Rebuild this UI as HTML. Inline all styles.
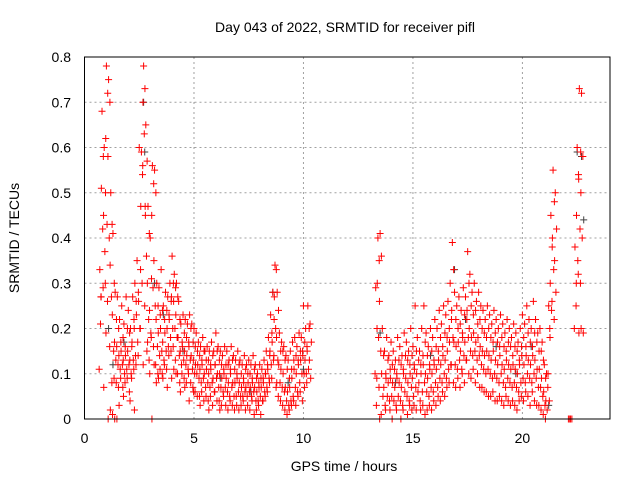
<!DOCTYPE html>
<html><head><meta charset="utf-8"><style>
body{margin:0;background:#fff}
svg text{font-family:"Liberation Sans",sans-serif;font-size:14px;fill:#000}
</style></head><body>
<svg id="chart" width="640" height="480" viewBox="0 0 640 480">
<rect width="640" height="480" fill="#fff"/>
<text x="345" y="32" text-anchor="middle">Day 043 of 2022, SRMTID for receiver pifl</text>
<g id="grid"></g>
<g id="gray"></g>
<g id="red"></g>
<rect x="84.5" y="57" width="525.5" height="362" fill="none" stroke="#000" stroke-width="1"/>
<g id="ticks"></g>
<text x="344" y="471" text-anchor="middle">GPS time / hours</text>
<text transform="translate(19,238) rotate(-90)" text-anchor="middle">SRMTID / TECUs</text>
</svg>
<script>
const xTicks=[0,5,10,15,20];
const yTicks=[0,0.1,0.2,0.3,0.4,0.5,0.6,0.7,0.8];
const yTickLabels=["0","0.1","0.2","0.3","0.4","0.5","0.6","0.7","0.8"];
// time bins (hours) and the SRMTID values observed in each bin
const binTimes=[0.7,0.8,0.9,1.0,1.1,1.2,1.3,1.4,1.5,1.6,1.7,1.8,1.9,2.0,2.1,2.2,2.3,2.4,2.5,2.6,2.7,2.8,2.9,3.0,3.1,3.2,3.3,3.4,3.5,3.6,3.7,3.8,3.9,4.0,4.1,4.2,4.3,4.4,4.5,4.6,4.7,4.8,4.9,5.0,5.1,5.2,5.3,5.4,5.5,5.6,5.7,5.8,5.9,6.0,6.1,6.2,6.3,6.4,6.5,6.6,6.7,6.8,6.9,7.0,7.1,7.2,7.3,7.4,7.5,7.6,7.7,7.8,7.9,8.0,8.1,8.2,8.3,8.4,8.5,8.6,8.7,8.8,8.9,9.0,9.1,9.2,9.3,9.4,9.5,9.6,9.7,9.8,9.9,10.0,10.1,10.2,10.3,
13.3,13.4,13.5,13.6,13.7,13.8,13.9,14.0,14.1,14.2,14.3,14.4,14.5,14.6,14.7,14.8,14.9,15.0,15.1,15.2,15.3,15.4,15.5,15.6,15.7,15.8,15.9,16.0,16.1,16.2,16.3,16.4,16.5,16.6,16.7,16.8,16.9,17.0,17.1,17.2,17.3,17.4,17.5,17.6,17.7,17.8,17.9,18.0,18.1,18.2,18.3,18.4,18.5,18.6,18.7,18.8,18.9,19.0,19.1,19.2,19.3,19.4,19.5,19.6,19.7,19.8,19.9,20.0,20.1,20.2,20.3,20.4,20.5,20.6,20.7,20.8,20.9,21.0,21.1,21.2,21.3,21.4,21.5,22.1,22.2,22.4,22.5,22.6,22.7];
const binValues=[
[0.33,0.27,0.11,0.21],[0.68,0.58,0.51,0.42,0.27,0.07],[0.6,0.5,0.45,0.37,0.29,0.19],[0.78,0.72,0.62,0.43,0.3,0.0],[0.75,0.7,0.58,0.4,0.26,0.02],[0.5,0.43,0.34,0.27,0.16,0.01],[0.41,0.3,0.23,0.15,0.08,0.0],[0.28,0.22,0.17,0.13,0.09,0.0],[0.27,0.2,0.16,0.12,0.08,0.03],
[0.22,0.17,0.14,0.11,0.07],[0.25,0.18,0.15,0.12,0.09,0.05],[0.21,0.16,0.13,0.1,0.07],[0.27,0.2,0.14,0.11,0.08],[0.24,0.19,0.15,0.12,0.09,0.04],[0.2,0.16,0.13,0.1,0.06],[0.27,0.22,0.17,0.13,0.09,0.02],[0.3,0.26,0.2,0.14,0.11],[0.35,0.28,0.23,0.17,0.12],[0.6,0.33,0.26,0.2,0.14],[0.59,0.56,0.47,0.3,0.2,0.12],[0.78,0.73,0.7,0.63,0.54,0.45],[0.65,0.57,0.47,0.36,0.25,0.17],[0.47,0.41,0.3,0.22,0.15,0.1],[0.4,0.31,0.24,0.19,0.13,0.0],[0.56,0.52,0.45,0.29,0.18,0.12],[0.55,0.5,0.35,0.25,0.16,0.08],[0.3,0.25,0.22,0.16,0.12,0.09],[0.29,0.23,0.19,0.14,0.1],[0.33,0.24,0.2,0.15,0.11,0.09],[0.25,0.22,0.17,0.13,0.1],[0.28,0.24,0.19,0.15,0.12,0.07],[0.27,0.23,0.2,0.16,0.11],[0.3,0.26,0.22,0.18,0.14,0.09],[0.36,0.3,0.27,0.2,0.15,0.11],[0.32,0.29,0.26,0.2,0.16,0.1],[0.3,0.27,0.23,0.18,0.13],[0.26,0.22,0.18,0.14,0.1,0.06],[0.21,0.17,0.15,0.12,0.08],[0.23,0.19,0.16,0.13,0.1,0.07],[0.22,0.18,0.15,0.12,0.09],[0.21,0.17,0.14,0.11,0.08,0.04],[0.23,0.2,0.16,0.13,0.1],[0.21,0.17,0.14,0.11,0.08,0.06],[0.2,0.16,0.13,0.1,0.07],
[0.19,0.15,0.12,0.1,0.06],[0.17,0.14,0.12,0.09,0.05,0.03],[0.16,0.13,0.11,0.08,0.05],[0.18,0.15,0.12,0.09,0.06],[0.15,0.13,0.1,0.07,0.04],[0.16,0.13,0.11,0.08,0.05,0.02],[0.15,0.12,0.1,0.07,0.04],[0.17,0.14,0.11,0.08,0.05],[0.15,0.12,0.09,0.06,0.03],[0.19,0.15,0.12,0.09,0.06],[0.16,0.13,0.1,0.07,0.04,0.02],[0.15,0.12,0.1,0.07,0.04],[0.14,0.11,0.09,0.06,0.03],[0.16,0.12,0.1,0.07,0.05],[0.15,0.12,0.09,0.06,0.03],[0.13,0.11,0.08,0.05,0.02],[0.16,0.13,0.1,0.07,0.04],[0.14,0.11,0.08,0.05,0.03],[0.13,0.1,0.08,0.05,0.02],[0.15,0.12,0.09,0.06,0.03],[0.13,0.1,0.08,0.05,0.02],[0.12,0.09,0.07,0.05,0.03],[0.14,0.11,0.08,0.06,0.04],[0.12,0.1,0.07,0.05,0.02],[0.13,0.1,0.08,0.06,0.03],[0.12,0.09,0.07,0.05,0.02],[0.14,0.11,0.08,0.06,0.04],[0.12,0.09,0.07,0.04,0.01],[0.1,0.08,0.06,0.04,0.02],[0.12,0.09,0.07,0.05,0.03],[0.11,0.09,0.07,0.04,0.01],[0.13,0.1,0.08,0.06,0.04],[0.15,0.12,0.1,0.07,0.05],[0.18,0.14,0.11,0.09,0.06],[0.23,0.19,0.15,0.12,0.08],[0.28,0.22,0.17,0.13,0.09],[0.34,0.33,0.27,0.2,0.14,0.08],[0.28,0.24,0.18,0.13,0.07],[0.19,0.15,0.12,0.08,0.05],[0.17,0.15,0.11,0.07,0.04],[0.16,0.13,0.1,0.06,0.03],[0.14,0.11,0.07,0.04,0.02],[0.13,0.09,0.06,0.03,0.01],[0.15,0.11,0.07,0.04,0.02],[0.17,0.13,0.09,0.05,0.03],[0.18,0.14,0.11,0.07,0.04],[0.16,0.13,0.1,0.06,0.03],[0.19,0.15,0.12,0.08,0.05],[0.18,0.15,0.13,0.1,0.06],[0.25,0.17,0.14,0.1,0.04],[0.2,0.16,0.13,0.1,0.07],[0.25,0.2,0.15,0.11,0.08],[0.21,0.17,0.13,0.09],
[0.29,0.2,0.1,0.03],[0.4,0.35,0.3,0.18,0.09,0.0],[0.41,0.36,0.26,0.15,0.07],[0.2,0.14,0.1,0.05,0.01],[0.15,0.1,0.07,0.03],[0.18,0.13,0.09,0.05,0.02],[0.14,0.11,0.08,0.04],[0.17,0.12,0.09,0.05,0.02],[0.15,0.11,0.08,0.04,0.0],[0.13,0.1,0.07,0.03],[0.18,0.13,0.09,0.05,0.02],[0.16,0.12,0.08,0.04],[0.14,0.11,0.07,0.03,0.0],[0.19,0.14,0.1,0.06,0.02],[0.17,0.13,0.09,0.05],[0.15,0.12,0.08,0.04,0.01],[0.2,0.14,0.1,0.07,0.03],[0.16,0.12,0.09,0.05,0.02],[0.25,0.15,0.11,0.07,0.03],[0.18,0.13,0.1,0.06,0.02],[0.15,0.12,0.08,0.04],[0.2,0.14,0.1,0.06,0.02],[0.25,0.17,0.12,0.08,0.03],[0.19,0.14,0.1,0.06,0.01],[0.16,0.12,0.09,0.05,0.02],[0.2,0.15,0.11,0.07,0.03],[0.18,0.13,0.1,0.06,0.02],[0.22,0.16,0.12,0.08,0.04],[0.2,0.15,0.11,0.07,0.03],[0.24,0.18,0.13,0.09,0.05],[0.21,0.16,0.12,0.08,0.04],[0.25,0.19,0.14,0.1,0.06],[0.23,0.18,0.13,0.09,0.05],[0.26,0.2,0.15,0.11,0.07],[0.3,0.22,0.17,0.12,0.08],[0.39,0.33,0.24,0.18,0.12],[0.28,0.22,0.17,0.12,0.08],[0.25,0.2,0.16,0.11,0.07],[0.27,0.21,0.17,0.13,0.09],[0.24,0.19,0.15,0.11,0.07],[0.29,0.23,0.18,0.14,0.1],[0.27,0.22,0.17,0.13,0.08],[0.37,0.3,0.24,0.18,0.13],[0.32,0.25,0.2,0.15,0.1],[0.28,0.23,0.18,0.14,0.09],[0.3,0.24,0.19,0.15,0.11],[0.26,0.21,0.17,0.13,0.08],[0.28,0.22,0.18,0.14,0.1],[0.25,0.2,0.16,0.12,0.07],[0.24,0.19,0.15,0.11,0.07],[0.22,0.18,0.14,0.1,0.06],[0.25,0.2,0.15,0.11,0.06],[0.23,0.18,0.14,0.1,0.05],[0.21,0.17,0.13,0.09,0.05],[0.24,0.19,0.15,0.1,0.06],[0.22,0.17,0.13,0.09,0.04],[0.2,0.16,0.12,0.08,0.04],[0.23,0.18,0.14,0.1,0.05],[0.21,0.16,0.12,0.08,0.04],[0.19,0.15,0.11,0.07,0.03],[0.22,0.17,0.13,0.09,0.05],[0.2,0.16,0.12,0.08,0.04],[0.18,0.14,0.11,0.07,0.03],[0.21,0.16,0.12,0.08,0.04],[0.19,0.15,0.11,0.07,0.03],[0.17,0.13,0.1,0.06,0.02],[0.2,0.16,0.12,0.08,0.04],[0.23,0.18,0.14,0.09,0.05],[0.21,0.16,0.12,0.08,0.04],[0.25,0.19,0.14,0.1,0.06],[0.22,0.17,0.13,0.09,0.05],[0.2,0.16,0.12,0.08,0.03],[0.26,0.19,0.14,0.1,0.06],[0.22,0.17,0.13,0.09,0.04],[0.19,0.15,0.11,0.07,0.03],[0.2,0.15,0.11,0.07,0.03],[0.17,0.13,0.09,0.05,0.02],[0.12,0.09,0.06,0.03,0.01],[0.1,0.07,0.04,0.02,0.0],[0.25,0.18,0.1,0.04],[0.45,0.38,0.3,0.24,0.2],[0.55,0.48,0.4,0.33,0.26],[0.5,0.42,0.35,0.28,0.22],[0.0,0.0],[0.0,0.0],[0.38,0.3,0.2],[0.6,0.54,0.45,0.35,0.25,0.19],[0.73,0.59,0.53,0.42,0.32,0.2],[0.72,0.58,0.5,0.4,0.3,0.19],[0.54,0.44,0.05]];
const grayT=[1.1,1.3,1.8,2.7,2.75,3.2,3.6,4.5,6.2,7.6,8.6,9.3,10.0,13.5,14.2,15.8,16.9,17.4,18.8,19.7,20.4,21.2,22.5,22.7,22.8];
const grayV=[0.2,0.12,0.17,0.7,0.59,0.3,0.23,0.15,0.09,0.06,0.28,0.08,0.11,0.19,0.08,0.14,0.33,0.22,0.16,0.1,0.16,0.03,0.59,0.58,0.44];
const NS="http://www.w3.org/2000/svg";
const X0=84.5,X1=610,Y0=419,Y1=57,XMAX=24,YMAX=0.8;
function sx(t){return X0+(X1-X0)*t/XMAX;}
function sy(v){return Y0-(Y0-Y1)*v/YMAX;}
const grid=document.getElementById('grid'),ticks=document.getElementById('ticks');
xTicks.forEach(t=>{
 if(t>0){const l=document.createElementNS(NS,'line');
 
 
 l.setAttribute('x1',sx(t));l.setAttribute('x2',sx(t));l.setAttribute('y1',Y1);l.setAttribute('y2',Y0);
 l.setAttribute('stroke','#a0a0a0');l.setAttribute('stroke-dasharray','2,3');grid.appendChild(l);}
 const tx=document.createElementNS(NS,'text');
 
 
 tx.setAttribute('x',sx(t));tx.setAttribute('y',443);tx.setAttribute('text-anchor','middle');tx.textContent=t;ticks.appendChild(tx);
});
yTicks.forEach((v,i)=>{
 if(v>0&&v<YMAX){const l=document.createElementNS(NS,'line');
 
 
 l.setAttribute('x1',X0);l.setAttribute('x2',X1);l.setAttribute('y1',sy(v));l.setAttribute('y2',sy(v));
 l.setAttribute('stroke','#a0a0a0');l.setAttribute('stroke-dasharray','2,3');grid.appendChild(l);}
 const tx=document.createElementNS(NS,'text');
 
 
 tx.setAttribute('x',71);tx.setAttribute('y',sy(v)+5);tx.setAttribute('text-anchor','end');tx.textContent=yTickLabels[i];ticks.appendChild(tx);
});
function plus(g,t,v,c,name){
 const p=document.createElementNS(NS,'path');
 
 
 const x=sx(t),y=sy(v);
 p.setAttribute('d','M'+(x-3.5)+' '+y+'h7M'+x+' '+(y-3.5)+'v7');
 p.setAttribute('stroke',c);p.setAttribute('stroke-width','1');g.appendChild(p);
}
const gg=document.getElementById('gray'),rg=document.getElementById('red');
grayT.forEach((t,i)=>plus(gg,t,grayV[i],'#404040','gray-point'));
const spread=[0,0.06,-0.03,0.03,-0.05,0.08];
binTimes.forEach((t,i)=>{
 binValues[i].forEach((v,j)=>plus(rg,t+spread[j%spread.length],v,'#ff0000','red-point'));
});
</script>
</body></html>
